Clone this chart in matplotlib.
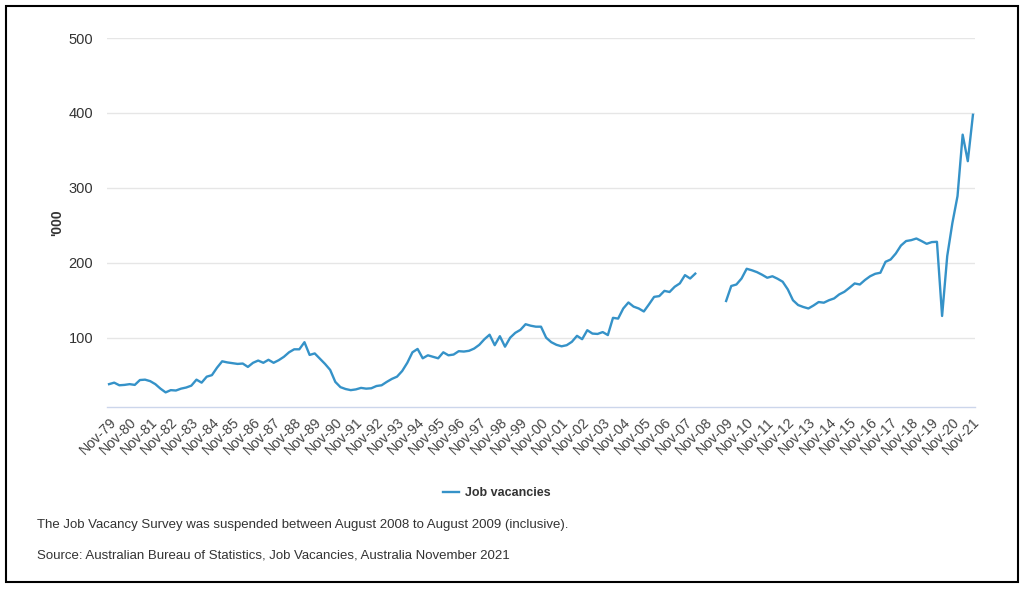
"""Job vacancies, Australia, quarterly Nov-79 to Nov-21 ('000)."""

import matplotlib

matplotlib.use("Agg")
import matplotlib.pyplot as plt
import numpy as np
from matplotlib.lines import Line2D
from matplotlib.patches import Rectangle

nan = np.nan

# Quarterly series: first value is Nov-79, then Feb/May/Aug/Nov of each year.
vacancies = [
    38,                         # Nov-79
    40, 36.5, 37, 38,           # 1980
    37, 43.5, 44, 42,           # 1981
    38, 32, 27, 30,             # 1982
    29.5, 32, 33.5, 36,         # 1983
    44, 40, 48, 50,             # 1984
    60, 68.5, 67, 66,           # 1985
    65, 65.5, 61, 66.5,         # 1986
    69.5, 66.5, 70.5, 66.5,     # 1987
    70, 74.5, 80.5, 84.5,       # 1988
    84.5, 94, 77, 79,           # 1989
    72, 65, 57, 41,             # 1990
    34, 31.5, 30, 31,           # 1991
    33, 32, 32.5, 35.5,         # 1992
    36.5, 41, 45, 48,           # 1993
    55.5, 66.5, 80.5, 85,       # 1994
    72.5, 76.5, 74.5, 72.5,     # 1995
    80.5, 76.5, 77.5, 82,       # 1996
    81.5, 82.5, 85.5, 90.5,     # 1997
    98, 104, 90, 102,           # 1998
    88, 100, 106.5, 110.5,      # 1999
    118, 116, 114.7, 114.7,     # 2000
    100, 94, 90.5, 88.5,        # 2001
    90, 94.5, 102.5, 98,        # 2002
    110, 105.5, 105, 107.5,     # 2003
    103.5, 126.5, 125.5, 139,   # 2004
    147, 141.5, 139, 135,       # 2005
    144.5, 154.5, 155.5, 162.5, # 2006
    161, 168, 172.5, 183.5,     # 2007
    179, 185.5, nan, nan,       # 2008 (survey suspended from Aug-08)
    nan, nan, nan, 149,         # 2009 (resumed Nov-09)
    169, 171, 179, 192,         # 2010
    190, 187.5, 184, 180,       # 2011
    182, 178.7, 174.7, 164.4,   # 2012
    150, 143.6, 141, 139,       # 2013
    143, 147.6, 146.7, 150,     # 2014
    152.4, 157.8, 161.3, 166.7, # 2015
    172.4, 171, 177, 182,       # 2016
    185.3, 186.7, 201.3, 204.4, # 2017
    212.4, 223, 229, 230.2,     # 2018
    232.4, 229, 225.3, 227.6,   # 2019
    228, 129, 209, 253,         # 2020
    289, 371, 335.6, 397.5,     # 2021
]

years = list(range(1979, 2022))
tick_labels = [f"Nov-{y % 100:02d}" for y in years]
y_ticks = [100, 200, 300, 400, 500]

LINE_COLOR = "#3592c8"
TEXT_COLOR = "#333333"

plt.rcParams["font.family"] = ["Liberation Sans", "DejaVu Sans"]

fig = plt.figure(figsize=(10.24, 5.89), dpi=100)
ax = fig.add_axes([107 / 1024, 1 - 407 / 589, 868 / 1024, 369 / 589])

x = np.arange(len(vacancies))
ax.plot(x, np.array(vacancies, dtype=float), color=LINE_COLOR, lw=1.7,
        solid_joinstyle="round")

ax.set_xlim(-0.4, len(vacancies) - 0.6)
ax.set_ylim(7.5, 500)
ax.set_yticks(y_ticks)
ax.set_yticklabels([str(v) for v in y_ticks], fontsize=10.5, color=TEXT_COLOR)
ax.set_xticks(x[::4])
ax.set_xticklabels(tick_labels, rotation=45, ha="right", va="top",
                   rotation_mode="anchor", fontsize=10.2, color="#444444")
ax.tick_params(axis="both", length=0)
ax.tick_params(axis="x", pad=6)
ax.tick_params(axis="y", pad=10)

ax.grid(axis="y", color="#e6e6e6", lw=1)
ax.set_axisbelow(True)
for side in ("top", "right", "left"):
    ax.spines[side].set_visible(False)
ax.spines["bottom"].set_color("#ccd6eb")
ax.spines["bottom"].set_linewidth(1)

ax.set_ylabel("'000", fontsize=10, fontweight="bold", color=TEXT_COLOR,
              labelpad=3)

handle = Line2D([], [], color=LINE_COLOR, lw=1.7)
fig.legend([handle], ["Job vacancies"], loc="center",
           bbox_to_anchor=(497 / 1024, 1 - 493 / 589), frameon=False,
           prop={"weight": "bold", "size": 9}, handlelength=1.3,
           handletextpad=0.5, labelcolor=TEXT_COLOR)

fig.text(37 / 1024, 1 - 525 / 589,
         "The Job Vacancy Survey was suspended between August 2008 to "
         "August 2009 (inclusive).",
         fontsize=9.5, color=TEXT_COLOR, va="center")
fig.text(37 / 1024, 1 - 556 / 589,
         "Source: Australian Bureau of Statistics, Job Vacancies, "
         "Australia November 2021",
         fontsize=9.5, color=TEXT_COLOR, va="center")

fig.patches.append(Rectangle((6 / 1024, 7 / 589), 1012 / 1024, 576 / 589,
                             transform=fig.transFigure, fill=False,
                             edgecolor="black", lw=1.5))

fig.savefig("out.png", dpi=100)
